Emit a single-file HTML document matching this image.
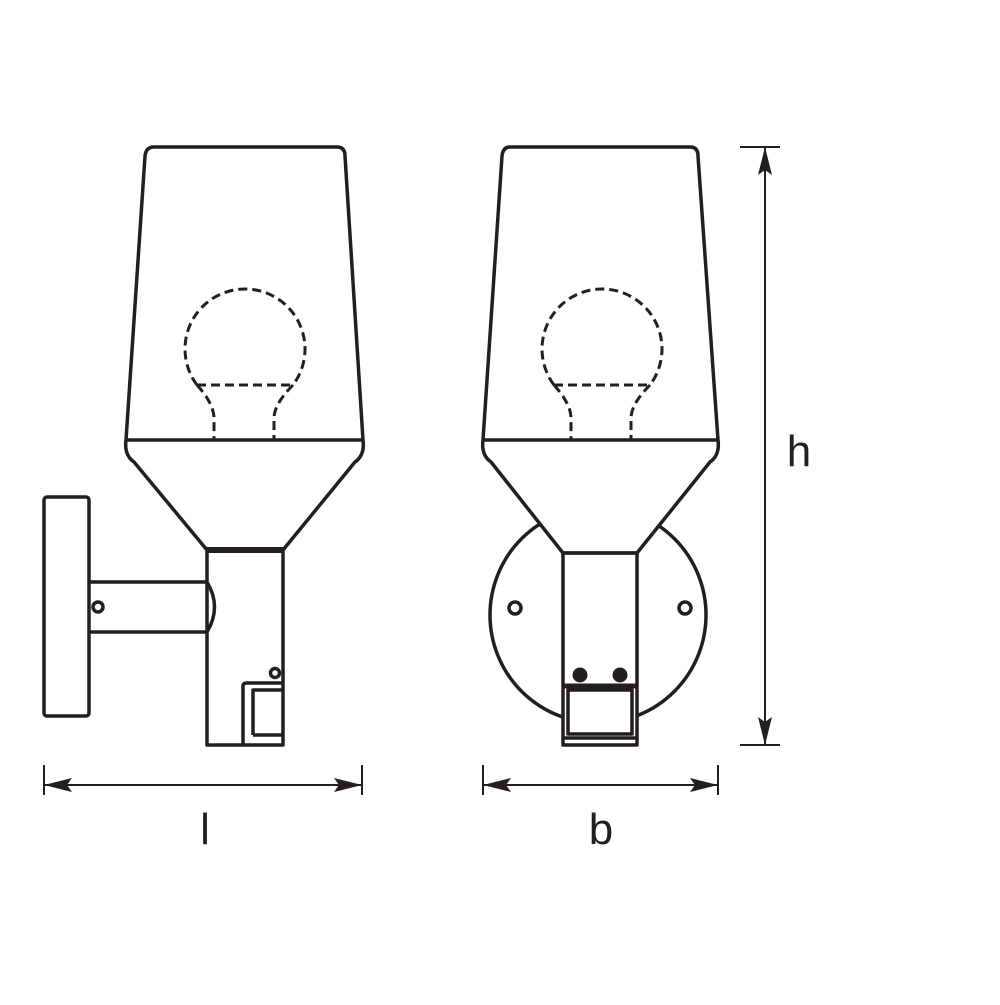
<!DOCTYPE html>
<html><head><style>html,body{margin:0;padding:0;background:#fff}</style></head>
<body>
<svg width="1000" height="1000" viewBox="0 0 1000 1000" xmlns="http://www.w3.org/2000/svg">
<g fill="none" stroke="#231f20" stroke-width="3.5" stroke-linejoin="round">
<!-- LEFT LAMP -->
<rect x="44" y="497" width="45" height="219" rx="3" fill="#fff"/>
<path d="M89 582 H207 M89 632 H207" />
<path d="M207 582 Q222 607 207 632"/>
<circle cx="98" cy="607" r="5"/>
<path d="M207 550 V745 H283 V550" fill="#fff"/>
<path d="M207 582 Q222 607 207 632"/>
<path d="M154 147 H337 Q345 147 345 156 L363 440 Q365 455 355 462 L283 550 H207 L134 462 Q124 455 126 440 L145 156 Q146 147 154 147 Z" fill="#fff"/>
<path d="M126 440 H363"/>
<path d="M207 550 H283" stroke-width="6"/>
<path d="M243 745 V686 Q243 683 247 683 H283"/>
<path d="M253 735 V690 H283 M253 735 H283"/>
<circle cx="275" cy="673" r="4.5"/>
<!-- bulb left -->
<g stroke-dasharray="9 5" stroke-width="3">
<path d="M197 385 A60 60 0 1 1 293 385"/>
<path d="M197 385 H293"/>
<path d="M197 385 Q215 405 214 420 V440"/>
<path d="M293 385 Q273 405 274 420 V440"/>
</g>
<!-- RIGHT LAMP -->
<circle cx="598" cy="615" r="108" fill="#fff"/>
<circle cx="515" cy="608" r="6"/>
<circle cx="685" cy="608" r="6"/>
<path d="M563 553 V745 H637 V553" fill="#fff"/>
<path d="M510 147 H690 Q698 147 698 156 L718 440 Q720 455 710 462 L637 553 H563 L491 462 Q481 455 483 440 L502 156 Q503 147 510 147 Z" fill="#fff"/>
<path d="M483 440 H718"/>
<path d="M563 553 H637"/>
<circle cx="580" cy="675" r="7.5" fill="#231f20" stroke="none"/>
<circle cx="620" cy="675" r="7.5" fill="#231f20" stroke="none"/>
<path d="M563 686 H637" stroke-width="5"/>
<rect x="568" y="690" width="64" height="44"/>
<path d="M563 738 H637"/>
<g stroke-dasharray="9 5" stroke-width="3">
<path d="M554 385 A60 60 0 1 1 650 385"/>
<path d="M554 385 H650"/>
<path d="M554 385 Q572 405 571 420 V440"/>
<path d="M650 385 Q630 405 631 420 V440"/>
</g>
</g>
<!-- DIMENSIONS -->
<g stroke="#231f20" stroke-width="2" fill="none">
<path d="M765 147 V745 M740 147 H780 M740 745 H780"/>
<path d="M44 765 V795 M362 765 V795 M44 785 H362"/>
<path d="M483 765 V795 M718 765 V795 M483 785 H718"/>
</g>
<g fill="#231f20">
<path d="M765 147 L758 175 L765 170 L772 175 Z"/>
<path d="M765 745 L758 717 L765 722 L772 717 Z"/>
<path d="M44 785 L72 778 L67 785 L72 792 Z"/>
<path d="M362 785 L334 778 L339 785 L334 792 Z"/>
<path d="M483 785 L511 778 L506 785 L511 792 Z"/>
<path d="M718 785 L690 778 L695 785 L690 792 Z"/>
</g>
<g font-family="Liberation Sans, sans-serif" font-size="44" fill="#231f20" text-anchor="middle">
<text x="799" y="466">h</text>
<text x="205" y="844">l</text>
<text x="601" y="844">b</text>
</g>
</svg>
</body></html>
